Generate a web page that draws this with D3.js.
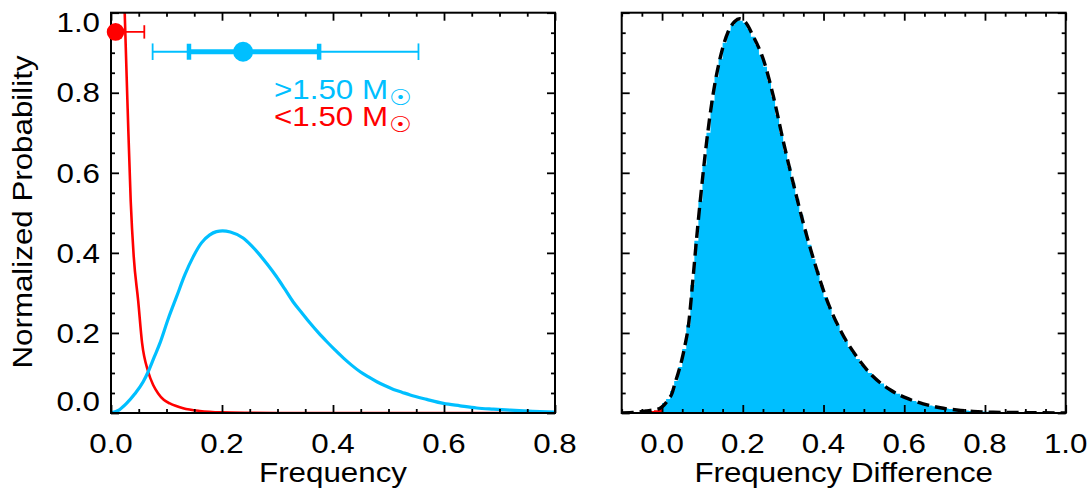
<!DOCTYPE html>
<html><head><meta charset="utf-8">
<script src="https://cdn.jsdelivr.net/npm/d3@7"></script>
<style>html,body{margin:0;padding:0;background:#fff;} svg{display:block;}</style>
</head><body><svg id="c" width="1092" height="495"></svg>
<script>
// ---------- data ----------
const blueFreq = [0, 0.015, 0.028, 0.043, 0.058, 0.067, 0.078, 0.088, 0.103, 0.118, 0.133, 0.148, 0.163, 0.178, 0.19, 0.201, 0.215, 0.238, 0.253, 0.268, 0.283, 0.298, 0.313, 0.328, 0.344, 0.359, 0.374, 0.389, 0.404, 0.419, 0.434, 0.449, 0.464, 0.479, 0.494, 0.509, 0.524, 0.539, 0.569, 0.599, 0.629, 0.659, 0.689, 0.719, 0.76, 0.8];
const blueProb = [0, 0.008, 0.024, 0.048, 0.078, 0.103, 0.14, 0.174, 0.235, 0.29, 0.345, 0.39, 0.425, 0.445, 0.453, 0.455, 0.452, 0.437, 0.418, 0.395, 0.369, 0.341, 0.31, 0.278, 0.25, 0.224, 0.2, 0.178, 0.157, 0.137, 0.119, 0.103, 0.09, 0.078, 0.068, 0.059, 0.052, 0.045, 0.034, 0.024, 0.018, 0.0125, 0.0095, 0.007, 0.004, 0.002];

const redFreq = [0.02, 0.0247, 0.03, 0.0355, 0.041, 0.049, 0.056, 0.067, 0.076, 0.085, 0.095, 0.106, 0.13, 0.16, 0.2, 0.25, 0.3, 0.8];
const redProb = [1.25, 1.0, 0.76, 0.53, 0.39, 0.28, 0.175, 0.103, 0.07, 0.049, 0.033, 0.024, 0.012, 0.005, 0.0015, 0.0004, 0, 0];

const fitDiff = [-0.1, -0.08, -0.06, -0.04, -0.02, -0.005, 0.005, 0.015, 0.025, 0.032, 0.04, 0.049, 0.057, 0.065, 0.077, 0.085, 0.094, 0.11, 0.127, 0.143, 0.164, 0.18, 0.192, 0.205, 0.226, 0.251, 0.276, 0.3, 0.325, 0.35, 0.375, 0.408, 0.441, 0.482, 0.523, 0.565, 0.606, 0.647, 0.689, 0.73, 0.771, 0.82, 0.9, 1.0];
const fitProb = [0, 0.001, 0.002, 0.005, 0.008, 0.012, 0.02, 0.033, 0.05, 0.074, 0.1, 0.133, 0.17, 0.216, 0.34, 0.43, 0.524, 0.674, 0.8, 0.883, 0.953, 0.978, 0.985, 0.978, 0.941, 0.883, 0.79, 0.68, 0.574, 0.474, 0.385, 0.283, 0.208, 0.141, 0.091, 0.058, 0.037, 0.023, 0.013, 0.0075, 0.004, 0.002, 0.001, 0];

const binWidth = 0.01;
const histNegStart = -0.06;
const histNeg = [0.001, 0.002, 0.003, 0.005, 0.007, 0.011];
const histPosStart = 0.0;
const histPos = [
  0.025, 0.035, 0.055, 0.08, 0.115, 0.16, 0.22, 0.32, 0.43, 0.53,
  0.62, 0.70, 0.78, 0.84, 0.885, 0.925, 0.955, 0.97, 0.98, 0.98,
  0.975, 0.96, 0.94, 0.92, 0.895, 0.865, 0.83, 0.79, 0.745, 0.70,
  0.655, 0.615, 0.575, 0.535, 0.495, 0.455, 0.42, 0.385, 0.355, 0.32,
  0.29, 0.265, 0.24, 0.22, 0.20, 0.18, 0.165, 0.15, 0.135, 0.12,
  0.11, 0.10, 0.09, 0.082, 0.074, 0.066, 0.06, 0.054, 0.048, 0.043,
  0.038, 0.034, 0.030, 0.027, 0.024, 0.021, 0.019, 0.017, 0.015, 0.013,
  0.011, 0.010, 0.009, 0.008, 0.007, 0.006, 0.005, 0.0045, 0.004, 0.0035,
  0.003, 0.003, 0.0028, 0.0026, 0.0024, 0.0022, 0.002, 0.002, 0.0018, 0.0016,
  0.0015, 0.0014, 0.0013, 0.0012, 0.0011, 0.001, 0.001, 0.0009, 0.0008, 0.0008
];

// error bars: [thin low, thick low, median, thick high, thin high]
const blueErrorBar = [0.075, 0.1405, 0.238, 0.375, 0.554];
const blueErrorY = 0.9025;
const redErrorBar = [0.0, 0.0, 0.0082, 0.02, 0.06];
const redErrorY = 0.952;

const legendLabels = [">1.50 M", "<1.50 M"];
const sunSymbol = "\u2609";

const yTicks = [0, 0.2, 0.4, 0.6, 0.8, 1.0];
const yTickLabels = ["0.0", "0.2", "0.4", "0.6", "0.8", "1.0"];
const xTicksLeft = [0, 0.2, 0.4, 0.6, 0.8];
const xTickLabelsLeft = ["0.0", "0.2", "0.4", "0.6", "0.8"];
const xTicksRight = [0, 0.2, 0.4, 0.6, 0.8, 1.0];
const xTickLabelsRight = ["0.0", "0.2", "0.4", "0.6", "0.8", "1.0"];
const yTitle = "Normalized Probability";
const xTitleLeft = "Frequency";
const xTitleRight = "Frequency Difference";

// ---------- styling ----------
const BLUE = "#00bfff", RED = "#ff0000";
const FONT = "'Liberation Sans', Arial, Helvetica, sans-serif";
const FS = 27, SX = 1.16;

const svg = d3.select("#c");
const y = d3.scaleLinear().domain([0, 1]).range([413, 12.7]);
const xL = d3.scaleLinear().domain([0, 0.8]).range([111, 555]);
const xR = d3.scaleLinear().domain([-0.1, 1.0]).range([621.7, 1065.7]);

function addText(x, yy, txt, anchor, color, rot) {
  return svg.append("text")
    .attr("transform", `translate(${x},${yy})${rot ? " rotate(-90)" : ""} scale(${SX},1)`)
    .attr("text-anchor", anchor)
    .attr("font-family", FONT).attr("font-size", FS)
    .attr("fill", color || "#000").text(txt);
}

function minorVals(domain, step, majors) {
  const out = [];
  const s = Math.ceil(domain[0] / step - 1e-9), e = Math.floor(domain[1] / step + 1e-9);
  for (let i = s; i <= e; i++) {
    const v = +(i * step).toFixed(4);
    if (!majors.some(m => Math.abs(m - v) < 1e-6)) out.push(v);
  }
  return out;
}

function frame(x, name) {
  const [x0, x1] = x.range();
  const [y0, y1] = y.range();
  const g = svg.append("g").attr("class", "axes-" + name);
  const xMaj = x === xL ? xTicksLeft : xTicksRight;
  const xMin = minorVals(x.domain(), 0.05, xMaj);
  const yMin = minorVals(y.domain(), 0.05, yTicks);
  const defs = [
    [d3.axisBottom(x), `translate(0,${y0})`, xMaj, xMin],
    [d3.axisTop(x), `translate(0,${y1})`, xMaj, xMin],
    [d3.axisLeft(y), `translate(${x0},0)`, yTicks, yMin],
    [d3.axisRight(y), `translate(${x1},0)`, yTicks, yMin]
  ];
  defs.forEach(([ax, tr, maj, min]) => {
    const a1 = g.append("g").attr("transform", tr)
      .call(ax.tickValues(maj).tickSize(-8).tickSizeOuter(0).tickFormat(""));
    a1.select(".domain").remove();
    const a2 = g.append("g").attr("transform", tr)
      .call(ax.tickValues(min).tickSize(-4).tickSizeOuter(0).tickFormat(""));
    a2.select(".domain").remove();
  });
  g.selectAll(".tick line").attr("stroke", "#000").attr("stroke-width", 1.8);
  g.append("rect").attr("x", x0).attr("y", y1).attr("width", x1 - x0).attr("height", y0 - y1)
    .attr("fill", "none").attr("stroke", "#000").attr("stroke-width", 2);
}

// clip paths
const defs = svg.append("defs");
defs.append("clipPath").attr("id", "clipL").append("rect")
  .attr("x", xL.range()[0]).attr("y", y.range()[1]).attr("width", xL.range()[1] - xL.range()[0]).attr("height", y.range()[0] - y.range()[1]);
defs.append("clipPath").attr("id", "clipR").append("rect")
  .attr("x", xR.range()[0]).attr("y", y.range()[1]).attr("width", xR.range()[1] - xR.range()[0]).attr("height", y.range()[0] - y.range()[1]);

// ---------- left panel ----------
const gL = svg.append("g").attr("clip-path", "url(#clipL)");
const lineL = d3.line().x(d => xL(d[0])).y(d => y(d[1])).curve(d3.curveMonotoneX);
gL.append("path").datum(d3.zip(redFreq, redProb)).attr("d", lineL)
  .attr("fill", "none").attr("stroke", RED).attr("stroke-width", 2.6);
gL.append("path").datum(d3.zip(blueFreq, blueProb)).attr("d", lineL)
  .attr("fill", "none").attr("stroke", BLUE).attr("stroke-width", 3.2);

// ---------- right panel ----------
const gR = svg.append("g").attr("clip-path", "url(#clipR)");
function stepData(start, vals) {
  const pts = vals.map((v, i) => ({ x: start + i * binWidth, v }));
  pts.push({ x: start + vals.length * binWidth, v: vals[vals.length - 1] });
  return pts;
}
const area = d3.area().x(d => xR(d.x)).y0(y(0)).y1(d => y(d.v)).curve(d3.curveStepAfter);
gR.append("path").datum(stepData(histNegStart, histNeg)).attr("d", area).attr("fill", RED);
gR.append("path").datum(stepData(histPosStart, histPos)).attr("d", area).attr("fill", BLUE);
const lineR = d3.line().x(d => xR(d[0])).y(d => y(d[1])).curve(d3.curveMonotoneX);
gR.append("path").datum(d3.zip(fitDiff, fitProb)).attr("d", lineR)
  .attr("fill", "none").attr("stroke", "#000").attr("stroke-width", 3.4)
  .attr("stroke-dasharray", "12,6");

frame(xL, "left");
frame(xR, "right");

// ---------- error bars ----------
function errorBar(vals, yv, color, r, capThin, capThick, thickW) {
  const g = svg.append("g");
  const yy = y(yv);
  g.append("line").attr("x1", xL(vals[0])).attr("x2", xL(vals[4])).attr("y1", yy).attr("y2", yy)
    .attr("stroke", color).attr("stroke-width", 1.8);
  [vals[0], vals[4]].forEach(v => {
    if (v > xL.domain()[0])
      g.append("line").attr("x1", xL(v)).attr("x2", xL(v)).attr("y1", yy - capThin).attr("y2", yy + capThin)
        .attr("stroke", color).attr("stroke-width", 1.8);
  });
  g.append("line").attr("x1", xL(vals[1])).attr("x2", xL(vals[3])).attr("y1", yy).attr("y2", yy)
    .attr("stroke", color).attr("stroke-width", thickW);
  if (capThick > 0) {
    [vals[1], vals[3]].forEach(v => {
      g.append("line").attr("x1", xL(v)).attr("x2", xL(v)).attr("y1", yy - capThick).attr("y2", yy + capThick)
        .attr("stroke", color).attr("stroke-width", 4.5);
    });
  }
  g.append("circle").attr("cx", xL(vals[2])).attr("cy", yy).attr("r", r).attr("fill", color);
}
errorBar(blueErrorBar, blueErrorY, BLUE, 10, 8.3, 8, 5);
errorBar(redErrorBar, redErrorY, RED, 8.8, 6.7, 0, 9);

// ---------- legend ----------
[[legendLabels[0], BLUE, 99], [legendLabels[1], RED, 126]].forEach(([t, c, yy]) => {
  const tx = addText(274, yy, t, "start", c);
  tx.append("tspan").attr("font-family", "'DejaVu Sans', sans-serif").attr("font-size", 22)
    .attr("dx", 1).attr("dy", 6).text(sunSymbol);
});

// ---------- tick labels ----------
yTicks.forEach((v, i) => {
  let yy = y(v) + 9.7;
  if (v === 0) yy = y(v) - 2.5;
  if (v === 1) yy = y(v) + 19.2;
  addText(100, yy, yTickLabels[i], "end");
});
xTicksLeft.forEach((v, i) => addText(xL(v), 452.5, xTickLabelsLeft[i], "middle"));
xTicksRight.forEach((v, i) => addText(xR(v), 452.5, xTickLabelsRight[i], "middle"));

// ---------- titles ----------
addText((xL.range()[0] + xL.range()[1]) / 2, 482, xTitleLeft, "middle");
addText((xR.range()[0] + xR.range()[1]) / 2, 482, xTitleRight, "middle");
addText(32, 212, yTitle, "middle", "#000", true);
</script></body></html>
